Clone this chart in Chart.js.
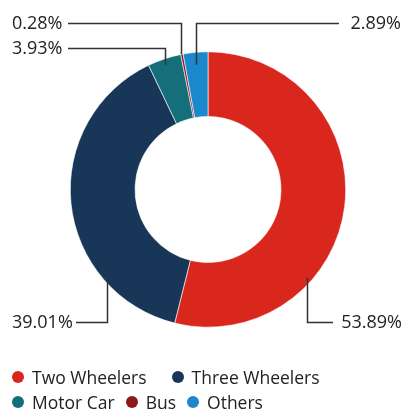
<!DOCTYPE html>
<html>
<head>
<meta charset="utf-8">
<script src="https://cdn.jsdelivr.net/npm/chart.js@4/dist/chart.umd.min.js"></script>
<style>
  html, body { margin: 0; padding: 0; background: #fff; }
  #wrap { position: relative; width: 404px; height: 411px; }
  #legend { position: absolute; left: 12px; top: 365px; width: 392px; display: flex; flex-wrap: wrap; column-gap: 11px; row-gap: 1px;
    font-family: "Open Sans", sans-serif; font-size: 17.5px; color: #222; }
  .item { display: flex; align-items: center; height: 24px; white-space: nowrap; }
  .item:first-child { margin-right: 14px; }
  .dot { width: 12px; height: 12px; border-radius: 50%; margin-right: 8px; }
</style>
</head>
<body>
<div id="wrap">
  <canvas id="c" width="404" height="411"></canvas>
  <div id="legend"></div>
</div>
<script>
const categories = ["Two Wheelers", "Three Wheelers", "Motor Car", "Bus", "Others"];
const shares = [53.89, 39.01, 3.93, 0.28, 2.89];
const colors = ["#d9271d", "#183758", "#146f7b", "#8c1a17", "#1a88ca"];

// annotation layout per slice (text position, horizontal leader end, anchor)
const labelLayout = [
  { tx: 402, ty: 322, align: "right", lineX: 333, angleDeg: 41.4, rFrac: 0.97 },
  { tx: 12,  ty: 322, align: "left",  lineX: 76,  angleDeg: 138.6, rFrac: 0.97 },
  { tx: 12,  ty: 48,  align: "left",  lineX: 68,  rFrac: 0.955 },
  { tx: 12,  ty: 23,  align: "left",  lineX: 68,  rFrac: 1.0 },
  { tx: 401, ty: 23,  align: "right", lineX: 339, rFrac: 0.91 }
];

const leaderPlugin = {
  id: "leaders",
  afterDraw(chart) {
    const ctx = chart.ctx;
    const meta = chart.getDatasetMeta(0);
    ctx.save();
    ctx.strokeStyle = "#333";
    ctx.lineWidth = 1.5;
    ctx.fillStyle = "#222";
    ctx.font = '18px "Open Sans", sans-serif';
    ctx.textBaseline = "middle";
    meta.data.forEach((arc, i) => {
      const L = labelLayout[i];
      const p = arc.getProps(["x", "y", "startAngle", "endAngle", "outerRadius"], true);
      const ang = L.angleDeg !== undefined ? L.angleDeg * Math.PI / 180 : (p.startAngle + p.endAngle) / 2;
      const r = p.outerRadius * L.rFrac;
      const ax = Math.round(p.x + r * Math.cos(ang)) - 0.5;
      const ay = p.y + r * Math.sin(ang);
      const hy = Math.round(L.ty) + 0.5;
      ctx.beginPath();
      ctx.moveTo(ax, ay);
      ctx.lineTo(ax, hy);
      ctx.lineTo(L.lineX, hy);
      ctx.stroke();
      ctx.textAlign = L.align;
      ctx.fillText(shares[i].toFixed(2) + "%", L.tx, L.ty + 1);
    });
    ctx.restore();
  }
};

new Chart(document.getElementById("c"), {
  type: "doughnut",
  data: {
    labels: categories,
    datasets: [{
      data: shares,
      backgroundColor: colors,
      borderColor: "#ffffff",
      borderWidth: 0.6
    }]
  },
  options: {
    responsive: false,
    animation: false,
    cutout: "53%",
    layout: { padding: { top: 51, bottom: 83, left: 70, right: 58 } },
    plugins: { legend: { display: false }, tooltip: { enabled: false } }
  },
  plugins: [leaderPlugin]
});

const legend = document.getElementById("legend");
categories.forEach((name, i) => {
  const item = document.createElement("div");
  item.className = "item";
  const dot = document.createElement("span");
  dot.className = "dot";
  dot.style.background = colors[i];
  item.appendChild(dot);
  item.appendChild(document.createTextNode(name));
  legend.appendChild(item);
});
</script>
</body>
</html>
